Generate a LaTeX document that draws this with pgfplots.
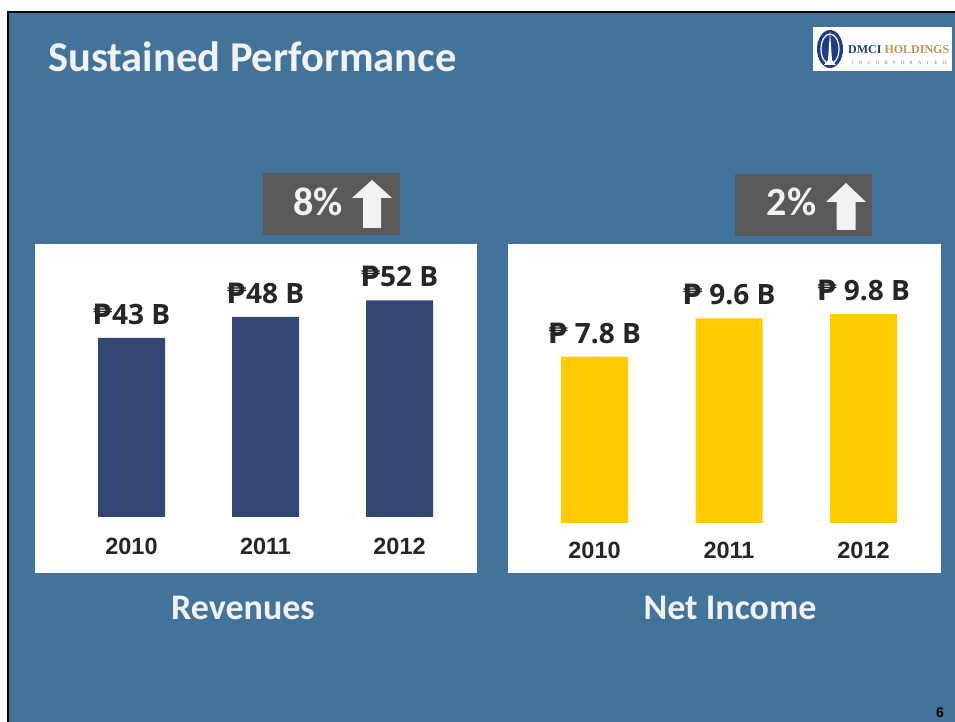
\documentclass[border=0pt]{standalone}
\usepackage{pgfplots}
\pgfplotsset{compat=1.18}
\usepackage{fontspec}
\setmainfont{Carlito}
\newfontfamily\valfont{Open Sans}
\newfontfamily\pesofont{DejaVu Sans}
\newfontfamily\arialfont{Liberation Sans}
\newfontfamily\seriffont{Liberation Serif}
\newcommand\peso{{\pesofont ₱}}

\definecolor{slideblue}{HTML}{41739B}
\definecolor{barnavy}{HTML}{344672}
\definecolor{baryellow}{HTML}{FFCC00}
\definecolor{boxgray}{HTML}{595959}
\definecolor{darktext}{HTML}{262626}
\definecolor{offwhite}{HTML}{F2F2F2}
\definecolor{logonavy}{HTML}{1F3C84}
\definecolor{logogold}{HTML}{B49A5A}

% common look of the two bar panels
\pgfplotsset{
  panel/.style={
    scale only axis,
    anchor=south west,
    ybar,
    bar width=67bp,
    xmin=-0.5, xmax=2.5,
    ymin=0,
    enlargelimits=false,
    axis line style={draw=none},
    major tick length=0pt,
    ytick=\empty,
    xtick={0,1,2},
    xticklabels={2010,2011,2012},
    xticklabel style={anchor=base, inner sep=0pt,
      font=\arialfont\bfseries\fontsize{23.5bp}{28bp}\selectfont, text=darktext},
    point meta=explicit symbolic,
    nodes near coords,
    nodes near coords style={anchor=base, inner sep=0pt, yshift=13.5bp,
      font=\valfont\bfseries\fontsize{28bp}{34bp}\selectfont, text=darktext},
  },
}

\begin{document}
\begin{tikzpicture}[x=1bp,y=1bp]
% slide background and border
\fill[white] (0,0) rectangle (955,722);
\fill[slideblue] (9.3,0) rectangle (955,708.7);
\fill[black] (7,708.7) rectangle (955,711);
\fill[black] (7,0) rectangle (9.3,711);

% title
\node[anchor=base west, inner sep=0pt, text=offwhite,
  font=\bfseries\fontsize{42.5bp}{50bp}\selectfont] at (48,650) {Sustained Performance};

% logo
\fill[white] (813,651) rectangle (952,695);
\fill[logonavy] (830,673) ellipse (13 and 19);
\draw[white, line width=1.2bp] (830,673) ellipse (9 and 15);
\fill[white] (830,690) -- (832,662) -- (836,657) -- (824,657) -- (828,662) -- cycle;
\node[anchor=base west, inner sep=0pt, font=\seriffont\bfseries\fontsize{12bp}{14bp}\selectfont]
  at (848,668) {\textcolor{logonavy}{DMCI} \textcolor{logogold}{HOLDINGS}};
\node[anchor=base west, inner sep=0pt, text=gray, font=\seriffont\fontsize{5bp}{6bp}\selectfont]
  at (852,657) {\makebox[94bp][s]{I\hfill N\hfill C\hfill O\hfill R\hfill P\hfill O\hfill R\hfill A\hfill T\hfill E\hfill D}};

% white panels
\fill[white] (35,149) rectangle (477,478);
\fill[white] (508,149) rectangle (941,478);

% growth badges
\fill[boxgray] (263,487) rectangle (400,549);
\fill[boxgray] (735,486) rectangle (872,548);
\node[anchor=base, inner sep=0pt, text=offwhite, font=\bfseries\fontsize{40bp}{48bp}\selectfont]
  at (318,506) {8\%};
\node[anchor=base, inner sep=0pt, text=offwhite, font=\bfseries\fontsize{40bp}{48bp}\selectfont]
  at (791.5,506) {2\%};
\fill[offwhite] (372,542) -- (392,524) -- (381,524) -- (381,494) -- (363,494) -- (363,524) -- (352,524) -- cycle;
\fill[offwhite] (846,539) -- (866,520) -- (855.5,520) -- (855.5,492) -- (836.5,492) -- (836.5,520) -- (826,520) -- cycle;

% revenues
\begin{axis}[panel, at={(64.5bp,205bp)}, width=402bp, height=250.08bp, ymax=60,
  xticklabel style={yshift=-38bp}]
\addplot[fill=barnavy, draw=none] coordinates {
  (0,43) [\peso43 B]
  (1,48) [\peso48 B]
  (2,52) [\peso52 B]
};
\end{axis}

% net income
\begin{axis}[panel, at={(527.25bp,199bp)}, width=403.5bp, height=255.84bp, ymax=12,
  xticklabel style={yshift=-36bp}]
\addplot[fill=baryellow, draw=none] coordinates {
  (0,7.8) [\peso{} 7.8 B]
  (1,9.6) [\peso{} 9.6 B]
  (2,9.8) [\peso{} 9.8 B]
};
\end{axis}

% panel captions
\node[anchor=base, inner sep=0pt, text=offwhite, font=\bfseries\fontsize{36bp}{43bp}\selectfont]
  at (243,102) {Revenues};
\node[anchor=base, inner sep=0pt, text=offwhite, font=\bfseries\fontsize{36bp}{43bp}\selectfont]
  at (730,102) {Net Income};

% slide number
\node[anchor=base, inner sep=0pt, font=\arialfont\bfseries\fontsize{14bp}{16bp}\selectfont]
  at (940,4) {6};

\pgfresetboundingbox
\path[use as bounding box] (0,0) rectangle (955,722);
\end{tikzpicture}
\end{document}
